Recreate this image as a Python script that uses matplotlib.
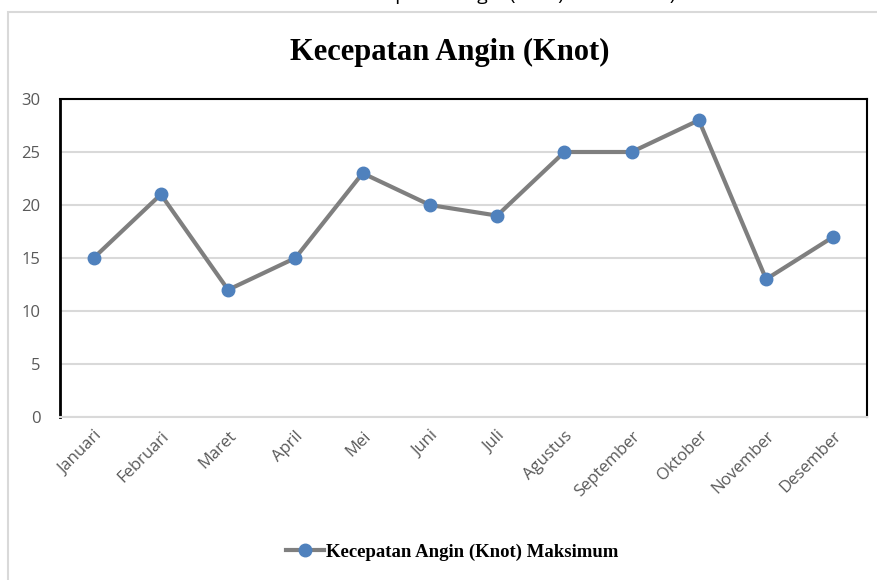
import numpy as np
import matplotlib
matplotlib.use("Agg")
import matplotlib.pyplot as plt
from matplotlib.patches import Rectangle
from matplotlib.lines import Line2D

# data
bulan = ["Januari", "Februari", "Maret", "April", "Mei", "Juni", "Juli",
         "Agustus", "September", "Oktober", "November", "Desember"]
kecepatan_maks = [15, 21, 12, 15, 23, 20, 19, 25, 25, 28, 13, 17]
y_ticks = [0, 5, 10, 15, 20, 25, 30]

judul = "Kecepatan Angin (Knot)"
label_seri = "Kecepatan Angin (Knot) Maksimum"

LINE_GRAY = "#7f7f7f"
MARKER_BLUE = "#4f81bd"
GRID = "#d9d9d9"
TICK_TXT = "#595959"
SERIF = ["Liberation Serif", "DejaVu Serif"]
SANS = ["Open Sans", "DejaVu Sans"]

fig = plt.figure(figsize=(8.78, 5.80), dpi=100)

# outer chart frame (partly cut off at the right and bottom)
fig.patches.append(Rectangle((8 / 878, -0.2), 1.2, 1.2 - 12 / 580,
                             transform=fig.transFigure, fill=False,
                             edgecolor=GRID, linewidth=1.5))

# caption of the page above, clipped at the top edge like in the screenshot
fig.text(0.585, 1.0, "Kecepatan Angin (Knot) Maksimum)", ha="center", va="baseline",
         fontsize=14, family=SANS, color="#000000")

ax = fig.add_axes([60 / 878, 1 - 417 / 580, (867 - 60) / 878, (417 - 99) / 580])
x = np.arange(len(bulan))
ax.plot(x, kecepatan_maks, color=LINE_GRAY, linewidth=3, marker="o",
        markersize=9, markerfacecolor=MARKER_BLUE, markeredgecolor=MARKER_BLUE,
        solid_capstyle="round", zorder=3)

ax.set_xlim(-0.5, len(bulan) - 0.5)
ax.set_ylim(0, 30)
ax.set_yticks(y_ticks)
ax.set_xticks(x)
ax.set_xticklabels(bulan, rotation=45, ha="right", rotation_mode="anchor",
                   family=SANS, fontsize=12, color=TICK_TXT)
for lbl in ax.get_yticklabels():
    lbl.set_family(SANS)
    lbl.set_fontsize(12)
    lbl.set_color(TICK_TXT)
ax.tick_params(axis="both", length=0)
ax.tick_params(axis="y", pad=14)
ax.tick_params(axis="x", pad=8)

ax.grid(axis="y", color=GRID, linewidth=1.5)
ax.set_axisbelow(True)
ax.spines["left"].set_linewidth(2)
ax.spines["top"].set_linewidth(1.5)
ax.spines["right"].set_linewidth(1.5)
ax.spines["bottom"].set_color(GRID)
ax.spines["bottom"].set_linewidth(1.5)

fig.text(0.5125, 1 - 52 / 580, judul, ha="center", va="center",
         fontsize=22, fontweight="bold", family=SERIF)

handle = Line2D([], [], color=LINE_GRAY, linewidth=3, marker="o", markersize=9,
                markerfacecolor=MARKER_BLUE, markeredgecolor=MARKER_BLUE)
leg = fig.legend([handle], [label_seri], loc="center", bbox_to_anchor=(0.515, 1 - 552 / 580),
                 frameon=False, handlelength=2.0, handletextpad=0.1,
                 prop={"family": SERIF, "weight": "bold", "size": 13.5})

fig.savefig("out.png", dpi=100)
